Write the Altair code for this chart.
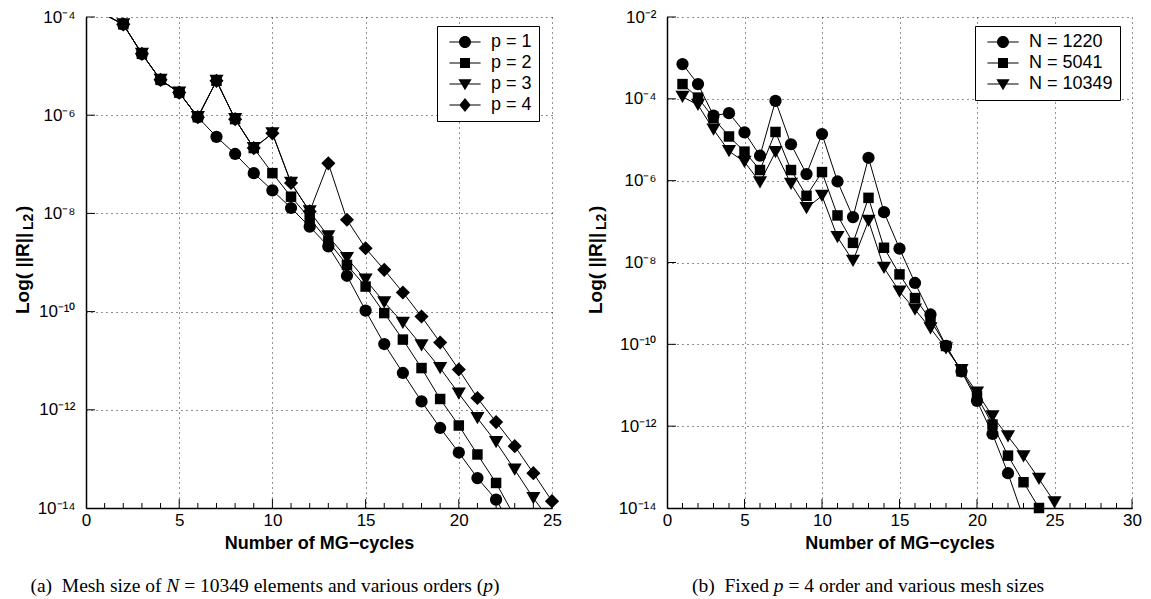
import altair as alt
import pandas as pd

# ---------------- data: log10(||R||_L2) ----------------
cycles = list(range(1, 26))

p_names = ["p = 1", "p = 2", "p = 3", "p = 4"]
p1 = [-3.95, -4.15, -4.75, -5.28, -5.54, -6.04, -6.44, -6.79, -7.18, -7.53, -7.89, -8.27,
      -8.67, -9.27, -9.98, -10.66, -11.25, -11.83, -12.37, -12.87, -13.39, -13.83, -14.47]
p2 = [-3.95, -4.15, -4.75, -5.28, -5.54, -6.04, -5.30, -6.08, -6.67, -7.18, -7.66, -8.10,
      -8.57, -9.05, -9.49, -10.03, -10.57, -11.15, -11.78, -12.32, -12.91, -13.49, -14.18]
p3 = [-3.95, -4.15, -4.75, -5.28, -5.54, -6.04, -5.30, -6.08, -6.67, -6.37, -7.38, -7.96,
      -8.47, -8.91, -9.35, -9.81, -10.23, -10.69, -11.15, -11.67, -12.17, -12.66, -13.22,
      -13.80, -14.30]
p4 = [-3.95, -4.15, -4.75, -5.28, -5.54, -6.04, -5.30, -6.08, -6.67, -6.37, -7.38, -7.96,
      -6.98, -8.13, -8.71, -9.15, -9.61, -10.10, -10.63, -11.18, -11.76, -12.25, -12.74,
      -13.29, -13.86]

n_names = ["N = 1220", "N = 5041", "N = 10349"]
n1220 = [-3.15, -3.64, -4.41, -4.35, -4.82, -5.39, -4.05, -5.11, -5.84, -4.86, -6.02, -6.89,
         -5.44, -6.77, -7.66, -8.50, -9.27, -10.04, -10.66, -11.38, -12.19, -13.15, -14.25]
n5041 = [-3.64, -3.97, -4.47, -4.92, -5.29, -5.74, -4.81, -5.74, -6.37, -5.79, -6.85, -7.52,
         -6.42, -7.64, -8.29, -8.87, -9.40, -10.04, -10.66, -11.27, -11.96, -12.72, -13.37,
         -14.00]
n10349 = [-3.95, -4.15, -4.75, -5.28, -5.54, -6.04, -5.30, -6.08, -6.67, -6.37, -7.38, -7.96,
          -6.98, -8.13, -8.71, -9.15, -9.61, -10.10, -10.63, -11.18, -11.76, -12.25, -12.74,
          -13.29, -13.86]

x_title = "Number of MG\u2212cycles"
# caption pieces: (text, italic, offset in em of Times)
caption_a = [("(a)\u00a0 Mesh size of", False, 0.0), ("N", True, 6.97),
             ("= 10349 elements and various orders (", False, 7.887),
             ("p", True, 23.226), (")", False, 23.726)]
caption_b = [("(b)\u00a0 Fixed", False, 0.0), ("p", True, 4.194),
             ("= 4 order and various mesh sizes", False, 4.944)]
CAP_SIZE = 19.5


def long_df(names, series):
    rows = []
    for name, vals in zip(names, series):
        for c, v in zip(cycles, vals):
            rows.append({"series": name, "cycle": c, "lg": v, "res": 10.0 ** v})
    return pd.DataFrame(rows)


SUP = {"0": "\u2070", "1": "\u00b9", "2": "\u00b2", "3": "\u00b3", "4": "\u2074",
       "5": "\u2075", "6": "\u2076", "7": "\u2077", "8": "\u2078", "9": "\u2079",
       "-": "\u207b"}


def sup(n):
    return "".join(SUP[ch] for ch in str(n))


def label_expr(exps):
    e = "round(log(datum.value)/LN10)"
    parts = [f"{e} == {k} ? '10{sup(k)}'" for k in exps]
    return " : ".join(parts) + " : ''"


RECT = "M-2.6,-0.09H2.6V0.09H-2.6Z"
LEG_PATH = {
    "circle": RECT + "M-1,0A1,1,0,1,1,1,0A1,1,0,1,1,-1,0Z",
    "square": RECT + "M-0.83,-0.83H0.83V0.83H-0.83Z",
    "triangle-down": RECT + "M-1.1,-0.8L1.1,-0.8L0,1.05Z",
    "diamond": RECT + "M0,-1.15L0.95,0L0,1.15L-0.95,0Z",
}
SIZE = {"circle": 150, "square": 110, "triangle-down": 200, "diamond": 200}


def panel(names, series, shapes, xmax, ytop, W, H, leg_xy, title_x, caption, cap_x):
    df = long_df(names, series)
    exps = list(range(-14, ytop + 1, 2))
    yvals = [10.0 ** k for k in exps]

    xs = alt.X("cycle:Q",
               scale=alt.Scale(domain=[0, xmax], nice=False, zero=False),
               axis=alt.Axis(values=list(range(0, xmax + 1, 5)), format="d",
                             title=x_title))
    ys = alt.Y("res:Q",
               scale=alt.Scale(type="log", domain=[1e-14, 10.0 ** ytop], nice=False),
               axis=alt.Axis(values=yvals, labelExpr=label_expr(exps), title=None))

    base = alt.Chart(df)
    layers = [base.mark_line(color="black", strokeWidth=1, clip=True).encode(
        x=xs, y=ys, detail="series:N")]
    for name, shp in zip(names, shapes):
        layers.append(base.transform_filter(
            f"datum.series == '{name}' && datum.lg >= -14.005 && datum.lg <= {ytop + 0.005}"
        ).mark_point(filled=True, color="black", opacity=1, strokeWidth=0,
                     shape=shp, size=SIZE[shp]).encode(x=xs, y=ys))
    layers.append(base.transform_filter("datum.cycle < 0").mark_point(
        filled=True, color="black", opacity=1).encode(
        x=xs, y=ys,
        shape=alt.Shape("series:N",
                        scale=alt.Scale(domain=names, range=[LEG_PATH[s] for s in shapes]),
                        legend=alt.Legend(title=None, orient="none",
                                          legendX=leg_xy[0], legendY=leg_xy[1])),
    ))

    xt = pd.DataFrame({"cycle": list(range(1, xmax + 1))})
    layers.append(alt.Chart(xt).transform_filter("datum.cycle % 5 != 0").mark_rule(
        color="black", strokeWidth=1).encode(x=xs, y=alt.value(H), y2=alt.value(H - 5)))
    layers.append(alt.Chart(xt).transform_filter("datum.cycle % 5 == 0").mark_rule(
        color="black", strokeWidth=1).encode(x=xs, y=alt.value(H), y2=alt.value(H - 9)))
    yt = pd.DataFrame({"res": yvals[1:]})
    layers.append(alt.Chart(yt).mark_rule(color="black", strokeWidth=1).encode(
        y=ys, x=alt.value(0), x2=alt.value(9)))

    one = pd.DataFrame({"k": [0]})
    tfont = dict(font="Liberation Sans", fontWeight="bold", color="black",
                 angle=270, align="left", baseline="middle")
    layers.append(alt.Chart(one).mark_text(text="Log( ||R||", fontSize=19, **tfont).encode(
        x=alt.value(title_x), y=alt.value(297)))
    layers.append(alt.Chart(one).mark_text(text="L2", fontSize=14, dx=84, dy=6, **tfont).encode(
        x=alt.value(title_x), y=alt.value(297)))
    layers.append(alt.Chart(one).mark_text(text=")", fontSize=19, dx=102, **tfont).encode(
        x=alt.value(title_x), y=alt.value(297)))
    for text, italic, off in caption:
        layers.append(alt.Chart(one).mark_text(
            text=text, font="Liberation Serif", fontSize=CAP_SIZE, color="black",
            fontStyle="italic" if italic else "normal", align="left",
            baseline="middle").encode(
            x=alt.value(cap_x + off * CAP_SIZE), y=alt.value(H + 78)))

    return alt.layer(*layers).properties(width=W, height=H)


left = panel(p_names, [p1, p2, p3, p4], ["circle", "square", "triangle-down", "diamond"],
             25, -4, 466, 491, (351, 9), -63, caption_a, -55.6)
right = panel(n_names, [n1220, n5041, n10349], ["circle", "square", "triangle-down"],
              30, -2, 465, 491, (308, 9), -71, caption_b, 25)

chart = alt.hconcat(left, right, spacing=25).resolve_scale(
    shape="independent", x="independent", y="independent"
).resolve_legend(shape="independent").properties(
    padding={"left": 6, "top": 0, "right": 0, "bottom": 0}
).configure_view(stroke=None).configure_axis(
    domainColor="black", domainWidth=1.5, grid=True, gridColor="#222",
    gridDash=[1, 4], gridOpacity=1, gridWidth=1, ticks=False, tickSize=0,
    labelFont="Liberation Sans", labelFontSize=17, labelColor="black",
    labelOverlap=False, labelFlush=False,
    titleFont="Liberation Sans", titleFontSize=18, titleFontWeight="bold",
    titleColor="black",
).configure_axisX(labelPadding=4, titlePadding=6).configure_axisY(
    labelPadding=11
).configure_legend(
    strokeColor="black", strokeWidth=1, fillColor="white", padding=7,
    labelFont="Liberation Sans", labelFontSize=18, labelColor="black",
    symbolSize=144, symbolFillColor="black", symbolStrokeColor="black",
    symbolStrokeWidth=0, rowPadding=3, labelOffset=17, symbolOffset=12,
)

chart.save("out.html", embed_options={"renderer": "svg", "actions": False})
